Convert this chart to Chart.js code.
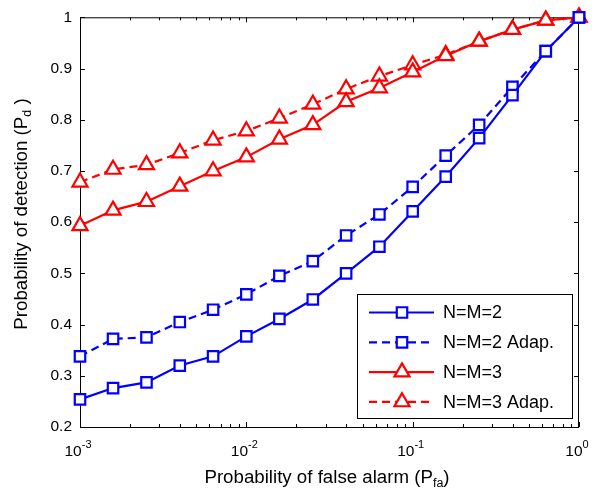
<!DOCTYPE html>
<html>
<head>
<meta charset="utf-8">
<script src="https://cdn.jsdelivr.net/npm/chart.js@4.4.1/dist/chart.umd.min.js"></script>
<style>
  html, body { margin: 0; padding: 0; background: #fff; }
  canvas { display: block; }
</style>
</head>
<body>
<canvas id="graficoDeteccao" width="592" height="493"></canvas>
<script>
// probabilidade de falso alarme (eixo x, escala log)
var pfa = [0.001, 0.00158, 0.00251, 0.00398, 0.00631, 0.01, 0.0158, 0.0251,
           0.0398, 0.0631, 0.1, 0.158, 0.251, 0.398, 0.631, 1];

// probabilidade de deteccao para cada configuracao
var pdNM2     = [0.254, 0.276, 0.287, 0.320, 0.338, 0.377, 0.411, 0.449,
                 0.500, 0.552, 0.621, 0.689, 0.764, 0.848, 0.934, 1.000];
var pdNM2Adap = [0.338, 0.372, 0.375, 0.405, 0.429, 0.459, 0.495, 0.524,
                 0.574, 0.615, 0.669, 0.730, 0.790, 0.864, 0.934, 1.000];
var pdNM3     = [0.593, 0.623, 0.640, 0.670, 0.700, 0.727, 0.762, 0.790,
                 0.835, 0.862, 0.893, 0.925, 0.953, 0.976, 0.994, 1.000];
var pdNM3Adap = [0.678, 0.703, 0.712, 0.735, 0.760, 0.778, 0.803, 0.830,
                 0.860, 0.885, 0.907, 0.927, 0.953, 0.976, 0.994, 1.000];

var legendas = ['N=M=2', 'N=M=2 Adap.', 'N=M=3', 'N=M=3 Adap.'];

// rotulos do eixo x: 10^expoente
var decadasX = [0.001, 0.01, 0.1, 1];
var expoentesX = ['-3', '-2', '-1', '0'];

var FONTE = '"Liberation Sans", Arial, Helvetica, sans-serif';
var AZUL = '#0000ff';
var VERMELHO = '#ff0000';
var TRACO = [8, 5];

function serie(rotulo, valores, cor, tracejado, marcador, raio) {
	return {
		label: rotulo,
		data: valores,
		borderColor: cor,
		borderWidth: 2.2,
		borderDash: tracejado ? TRACO : [],
		pointStyle: marcador,
		pointRadius: raio,
		pointBorderWidth: 2.2,
		pointBorderColor: cor,
		pointBackgroundColor: '#fff',
		tension: 0,
		clip: false,
		fill: false
	};
}

// escreve um texto com partes em subscrito / sobrescrito
function textoComposto(ctx, partes, x, y, alinhamento) {
	var total = 0;
	partes.forEach(function(p) {
		ctx.font = p.tam + 'px ' + FONTE;
		p.w = ctx.measureText(p.t).width;
		total += p.w;
	});
	var cx = alinhamento === 'center' ? x - total / 2 : x;
	ctx.textAlign = 'left';
	ctx.textBaseline = 'alphabetic';
	partes.forEach(function(p) {
		ctx.font = p.tam + 'px ' + FONTE;
		ctx.fillText(p.t, cx, y + (p.dy || 0));
		cx += p.w;
	});
}

var molduraEixos = {
	id: 'molduraEixos',
	beforeDatasetsDraw: function(chart) {
		var ctx = chart.ctx;
		var a = chart.chartArea;
		var ex = chart.scales.x;
		var ey = chart.scales.y;
		ctx.save();
		ctx.strokeStyle = '#000';
		ctx.lineWidth = 1;
		ctx.strokeRect(a.left + 0.5, a.top + 0.5, a.right - a.left - 1, a.bottom - a.top);

		ctx.beginPath();
		// marcas do eixo y, para dentro, dos dois lados
		ey.ticks.forEach(function(t) {
			var py = Math.round(ey.getPixelForValue(t.value)) + 0.5;
			ctx.moveTo(a.left, py); ctx.lineTo(a.left + 5, py);
			ctx.moveTo(a.right, py); ctx.lineTo(a.right - 5, py);
		});
		// marcas do eixo x: decadas e subdivisoes 2..9
		decadasX.forEach(function(d, i) {
			var px = Math.round(ex.getPixelForValue(d)) + 0.5;
			ctx.moveTo(px, a.bottom); ctx.lineTo(px, a.bottom - 5);
			ctx.moveTo(px, a.top); ctx.lineTo(px, a.top + 5);
			if (i < decadasX.length - 1) {
				for (var k = 2; k <= 9; k++) {
					var pm = Math.round(ex.getPixelForValue(d * k)) + 0.5;
					ctx.moveTo(pm, a.bottom); ctx.lineTo(pm, a.bottom - 3);
					ctx.moveTo(pm, a.top); ctx.lineTo(pm, a.top + 3);
				}
			}
		});
		ctx.stroke();
		ctx.restore();
	},
	afterDraw: function(chart) {
		var ctx = chart.ctx;
		var a = chart.chartArea;
		var ex = chart.scales.x;
		ctx.save();
		ctx.fillStyle = '#000';

		// rotulos 10^n
		decadasX.forEach(function(d, i) {
			var px = ex.getPixelForValue(d) - 2;
			textoComposto(ctx, [
				{ t: '10', tam: 15.5 },
				{ t: expoentesX[i], tam: 11, dy: -8 }
			], px, a.bottom + 29, 'center');
		});

		// titulo do eixo x
		textoComposto(ctx, [
			{ t: 'Probability of false alarm (P', tam: 18.7 },
			{ t: 'fa', tam: 12.5, dy: 4 },
			{ t: ')', tam: 18.7 }
		], 327, 483, 'center');

		// titulo do eixo y (girado)
		ctx.save();
		ctx.translate(27, 214);
		ctx.rotate(-Math.PI / 2);
		textoComposto(ctx, [
			{ t: 'Probability of detection (P', tam: 18.7 },
			{ t: 'd', tam: 12.5, dy: 4 },
			{ t: ' )', tam: 18.7 }
		], 0, 0, 'center');
		ctx.restore();

		// legenda
		var lx = 357, ly = 294, lw = 215, lh = 124;
		ctx.fillStyle = '#fff';
		ctx.fillRect(lx, ly, lw, lh);
		ctx.strokeStyle = '#000';
		ctx.lineWidth = 1;
		ctx.strokeRect(lx + 0.5, ly + 0.5, lw, lh);

		chart.data.datasets.forEach(function(ds, i) {
			var yy = 312.5 + i * 29.8;
			ctx.strokeStyle = ds.borderColor;
			ctx.lineWidth = ds.borderWidth;
			ctx.setLineDash(ds.borderDash);
			ctx.beginPath();
			ctx.moveTo(369, yy);
			ctx.lineTo(434, yy);
			ctx.stroke();
			ctx.setLineDash([]);
			ctx.fillStyle = '#fff';
			ctx.lineWidth = ds.pointBorderWidth;
			Chart.helpers.drawPoint(ctx, {
				pointStyle: ds.pointStyle,
				radius: ds.pointRadius,
				rotation: 0,
				borderWidth: ds.pointBorderWidth
			}, 402, yy);
			ctx.fillStyle = '#000';
			ctx.font = '18px ' + FONTE;
			ctx.textAlign = 'left';
			ctx.textBaseline = 'middle';
			ctx.fillText(ds.label, 443, yy + 1);
		});
		ctx.restore();
	}
};

var ctx = document.getElementById('graficoDeteccao').getContext('2d');
var graficoDeteccao = new Chart(ctx, {
	type: 'line',
	data: {
		labels: pfa,
		datasets: [
			serie(legendas[0], pdNM2, AZUL, false, 'rect', 7.4),
			serie(legendas[1], pdNM2Adap, AZUL, true, 'rect', 7.4),
			serie(legendas[2], pdNM3, VERMELHO, false, 'triangle', 8.7),
			serie(legendas[3], pdNM3Adap, VERMELHO, true, 'triangle', 8.7)
		]
	},
	options: {
		responsive: false,
		animation: false,
		events: [],
		layout: { padding: { top: 12, right: 13, left: 0, bottom: 0 } },
		plugins: {
			legend: { display: false },
			tooltip: { enabled: false }
		},
		scales: {
			x: {
				type: 'logarithmic',
				min: 0.001,
				max: 1,
				grid: { display: false, drawTicks: false },
				border: { display: false },
				ticks: { display: false },
				afterFit: function(escala) { escala.height = 66; }
			},
			y: {
				min: 0.2,
				max: 1,
				grid: { display: false, drawTicks: false },
				border: { display: false },
				ticks: {
					stepSize: 0.1,
					padding: 8,
					color: '#000',
					font: { family: FONTE, size: 15.5 },
					callback: function(v) { return String(+v.toFixed(1)); }
				},
				afterFit: function(escala) { escala.width = 80; }
			}
		}
	},
	plugins: [molduraEixos]
});
</script>
</body>
</html>
